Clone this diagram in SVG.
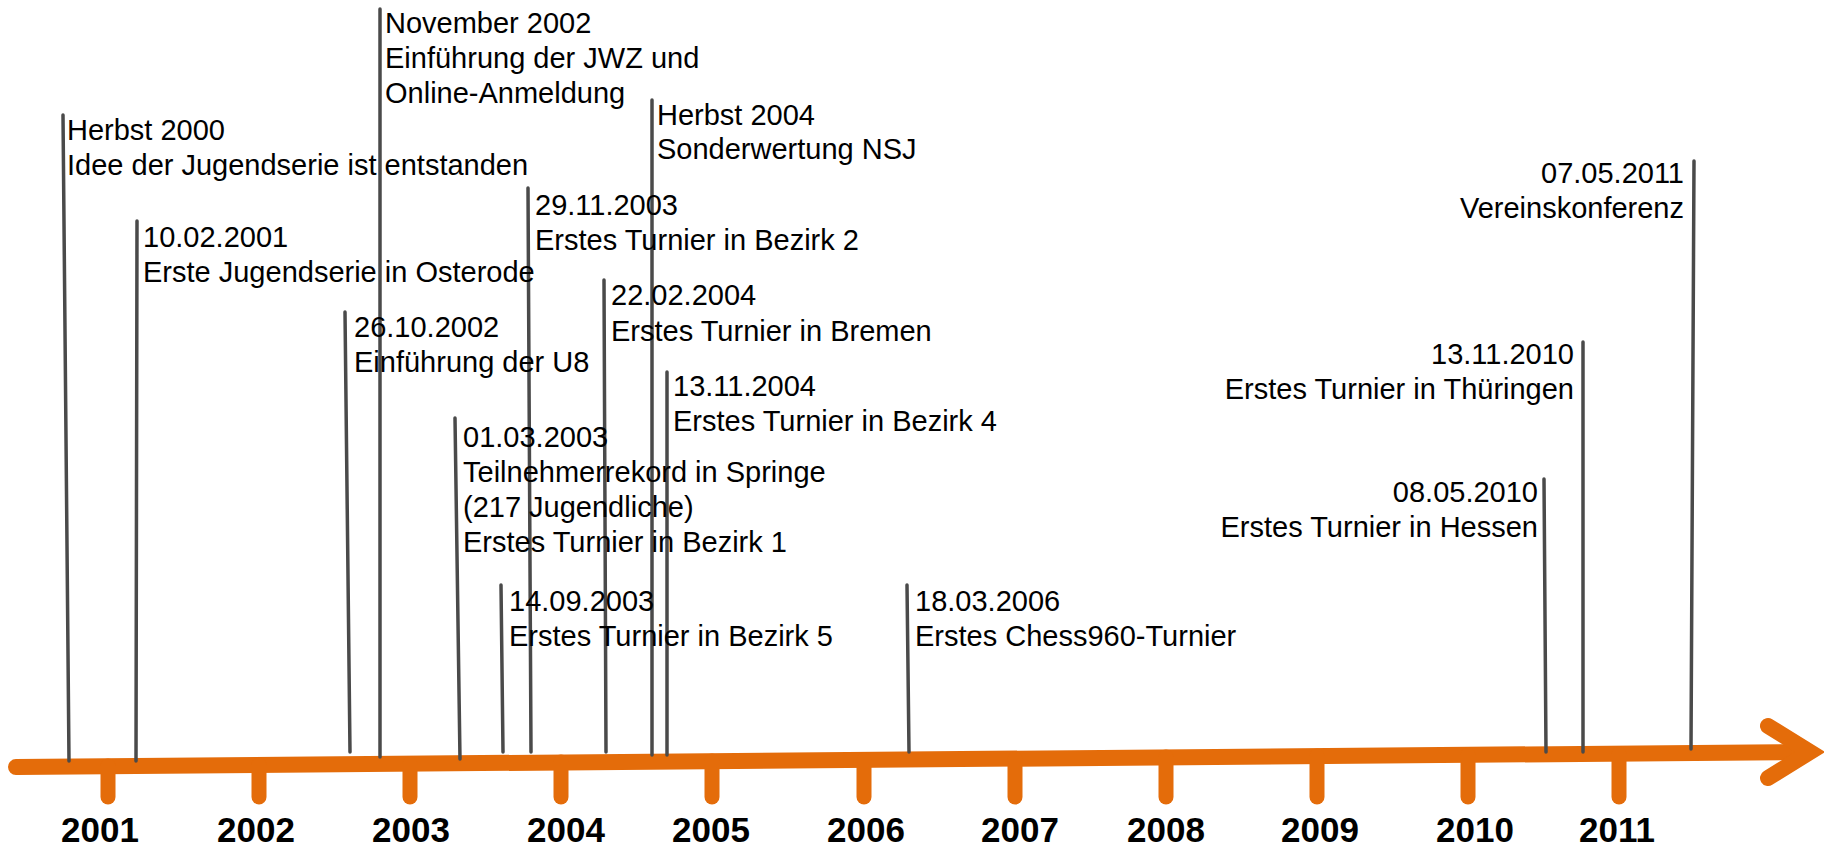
<svg xmlns="http://www.w3.org/2000/svg" width="1824" height="846" viewBox="0 0 1824 846">
<style>
.ev{font-family:"Liberation Sans",Arial,sans-serif;font-size:29px;fill:#000}
.end{text-anchor:end}
.yr{font-family:"Liberation Sans",Arial,sans-serif;font-size:35px;font-weight:bold;fill:#000;text-anchor:middle}
.axis{stroke:#E46C0A;stroke-width:16;stroke-linecap:round;fill:none}
.tick{stroke:#E46C0A;stroke-width:15;stroke-linecap:round}
.con{stroke:#4a4a4a;stroke-width:3.5;stroke-linecap:round}
</style>
<rect width="1824" height="846" fill="#fff"/>
<g id="axis">
<line class="axis" x1="16" y1="767" x2="1808" y2="752"/>
<polyline class="axis" points="1768,726 1810,752 1768,778" stroke-linejoin="miter"/>
</g>
<g id="ticks">
<line class="tick" x1="108" y1="766" x2="108" y2="797"/>
<line class="tick" x1="259" y1="765" x2="259" y2="797"/>
<line class="tick" x1="410" y1="764" x2="410" y2="797"/>
<line class="tick" x1="561" y1="762" x2="561" y2="797"/>
<line class="tick" x1="712" y1="761" x2="712" y2="797"/>
<line class="tick" x1="864" y1="760" x2="864" y2="797"/>
<line class="tick" x1="1015" y1="759" x2="1015" y2="797"/>
<line class="tick" x1="1166" y1="757" x2="1166" y2="797"/>
<line class="tick" x1="1317" y1="756" x2="1317" y2="797"/>
<line class="tick" x1="1468" y1="755" x2="1468" y2="797"/>
<line class="tick" x1="1619" y1="754" x2="1619" y2="797"/>
</g>
<g id="years">
<text class="yr" x="100" y="842">2001</text>
<text class="yr" x="256" y="842">2002</text>
<text class="yr" x="411" y="842">2003</text>
<text class="yr" x="566" y="842">2004</text>
<text class="yr" x="711" y="842">2005</text>
<text class="yr" x="866" y="842">2006</text>
<text class="yr" x="1020" y="842">2007</text>
<text class="yr" x="1166" y="842">2008</text>
<text class="yr" x="1320" y="842">2009</text>
<text class="yr" x="1475" y="842">2010</text>
<text class="yr" x="1617" y="842">2011</text>
</g>
<g id="connectors">
<line class="con" x1="63" y1="115" x2="69" y2="761"/>
<line class="con" x1="137" y1="221" x2="136" y2="761"/>
<line class="con" x1="345" y1="312" x2="350" y2="752"/>
<line class="con" x1="380" y1="9" x2="380" y2="757"/>
<line class="con" x1="455" y1="418" x2="460" y2="759"/>
<line class="con" x1="501" y1="585" x2="503" y2="752"/>
<line class="con" x1="528" y1="188" x2="531" y2="752"/>
<line class="con" x1="604" y1="280" x2="606" y2="752"/>
<line class="con" x1="652" y1="100" x2="652" y2="755"/>
<line class="con" x1="667" y1="372" x2="667" y2="755"/>
<line class="con" x1="907" y1="585" x2="909" y2="752"/>
<line class="con" x1="1544" y1="479" x2="1546" y2="752"/>
<line class="con" x1="1583" y1="342" x2="1583" y2="752"/>
<line class="con" x1="1694" y1="161" x2="1691" y2="749"/>
</g>
<g id="ev-herbst2000">
<text class="ev" x="67" y="140">Herbst 2000</text>
<text class="ev" x="67" y="175">Idee der Jugendserie ist entstanden</text>
</g>
<g id="ev-20010210">
<text class="ev" x="143" y="247">10.02.2001</text>
<text class="ev" x="143" y="282">Erste Jugendserie in Osterode</text>
</g>
<g id="ev-20021026">
<text class="ev" x="354" y="337">26.10.2002</text>
<text class="ev" x="354" y="372">Einführung der U8</text>
</g>
<g id="ev-nov2002">
<text class="ev" x="385" y="33">November 2002</text>
<text class="ev" x="385" y="68">Einführung der JWZ und</text>
<text class="ev" x="385" y="103">Online-Anmeldung</text>
</g>
<g id="ev-20030301">
<text class="ev" x="463" y="447">01.03.2003</text>
<text class="ev" x="463" y="482">Teilnehmerrekord in Springe</text>
<text class="ev" x="463" y="517">(217 Jugendliche)</text>
<text class="ev" x="463" y="552">Erstes Turnier in Bezirk 1</text>
</g>
<g id="ev-20030914">
<text class="ev" x="509" y="611">14.09.2003</text>
<text class="ev" x="509" y="646">Erstes Turnier in Bezirk 5</text>
</g>
<g id="ev-20031129">
<text class="ev" x="535" y="215">29.11.2003</text>
<text class="ev" x="535" y="250">Erstes Turnier in Bezirk 2</text>
</g>
<g id="ev-20040222">
<text class="ev" x="611" y="305">22.02.2004</text>
<text class="ev" x="611" y="341">Erstes Turnier in Bremen</text>
</g>
<g id="ev-herbst2004">
<text class="ev" x="657" y="125">Herbst 2004</text>
<text class="ev" x="657" y="159">Sonderwertung NSJ</text>
</g>
<g id="ev-20041113">
<text class="ev" x="673" y="396">13.11.2004</text>
<text class="ev" x="673" y="431">Erstes Turnier in Bezirk 4</text>
</g>
<g id="ev-20060318">
<text class="ev" x="915" y="611">18.03.2006</text>
<text class="ev" x="915" y="646">Erstes Chess960-Turnier</text>
</g>
<g id="ev-20100508">
<text class="ev end" x="1538" y="502">08.05.2010</text>
<text class="ev end" x="1538" y="537">Erstes Turnier in Hessen</text>
</g>
<g id="ev-20101113">
<text class="ev end" x="1574" y="364">13.11.2010</text>
<text class="ev end" x="1574" y="399">Erstes Turnier in Thüringen</text>
</g>
<g id="ev-20110507">
<text class="ev end" x="1684" y="183">07.05.2011</text>
<text class="ev end" x="1684" y="218">Vereinskonferenz</text>
</g>
</svg>
